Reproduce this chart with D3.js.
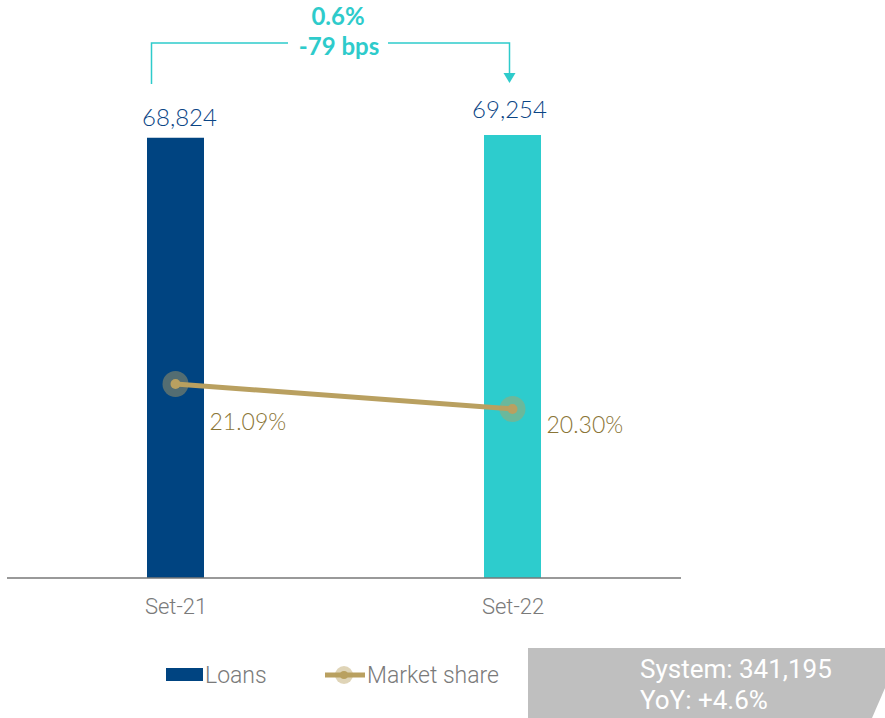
<!DOCTYPE html>
<html>
<head>
<meta charset="utf-8">
<script src="https://cdn.jsdelivr.net/npm/d3@7"></script>
<style>
  body { margin: 0; background: #fff; }
  svg { display: block; }
</style>
</head>
<body>
<svg id="chart" width="885" height="718"></svg>
<script>
// data
const periods = ["Set-21", "Set-22"];
const loans = [68824, 69254];
const marketShare = [21.09, 20.30];
const barColors = ["#004481", "#2dcccd"];
const growthLabel = "0.6%";
const bpsLabel = "-79 bps";
const systemLines = ["System: 341,195", "YoY: +4.6%"];

const svg = d3.select("#chart");
const gold = "#b9a060";

const x = d3.scalePoint()
  .domain(periods)
  .range([7, 681])
  .padding(0.5);

const y = d3.scaleLinear()
  .domain([0, 69254])
  .range([578, 135]);

// market share on its own scale
const y2 = d3.scaleLinear()
  .domain([20.30, 21.09])
  .range([409, 384]);

const barW = 57;
// label nudges (first label sits lower under the line)
const valDy = [-12, -17];
const pctDy = [46, 24];

// bars
svg.selectAll(".bar")
  .data(loans)
  .enter()
  .append("rect")
  .attr("class", "bar")
  .attr("x", (d, i) => x(periods[i]) - barW / 2)
  .attr("y", d => y(d))
  .attr("width", barW)
  .attr("height", d => 578 - y(d))
  .attr("fill", (d, i) => barColors[i]);

// bar values
svg.selectAll(".val")
  .data(loans)
  .enter()
  .append("text")
  .attr("x", (d, i) => x(periods[i]) + (i == 0 ? 4 : -3))
  .attr("y", (d, i) => y(d) + valDy[i])
  .attr("text-anchor", "middle")
  .attr("font-family", "Lato")
  .attr("font-weight", 300)
  .attr("font-size", 24)
  .attr("fill", "#0a4585")
  .text(d => d3.format(",")(d));

// axis
const xAxis = svg.append("g")
  .attr("transform", "translate(0,578)")
  .call(d3.axisBottom(x).tickSize(0).tickPadding(20));
xAxis.select(".domain").attr("d", "M7,0H681").attr("stroke", "#777").attr("stroke-width", 1.5);
xAxis.selectAll("text")
  .attr("font-family", "Roboto")
  .attr("font-weight", 300)
  .attr("font-size", 22)
  .attr("fill", "#7a7a7a");

// market share line
svg.append("path")
  .datum(marketShare)
  .attr("fill", "none")
  .attr("stroke", gold)
  .attr("stroke-width", 5)
  .attr("d", d3.line().x((d, i) => x(periods[i])).y(d => y2(d)));

svg.selectAll(".halo")
  .data(marketShare)
  .enter()
  .append("circle")
  .attr("cx", (d, i) => x(periods[i]))
  .attr("cy", d => y2(d))
  .attr("r", 13)
  .attr("fill", gold)
  .attr("fill-opacity", 0.45);

svg.selectAll(".dot")
  .data(marketShare)
  .enter()
  .append("circle")
  .attr("cx", (d, i) => x(periods[i]))
  .attr("cy", d => y2(d))
  .attr("r", 5)
  .attr("fill", gold);

svg.selectAll(".msl")
  .data(marketShare)
  .enter()
  .append("text")
  .attr("x", (d, i) => x(periods[i]) + 34)
  .attr("y", (d, i) => y2(d) + pctDy[i])
  .attr("font-family", "Lato")
  .attr("font-weight", 300)
  .attr("font-size", 23)
  .attr("fill", "#8a7536")
  .text(d => d.toFixed(2) + "%");

// growth bracket
const teal = "#2ecbcb";
const bx0 = x(periods[0]) - 24, bx1 = x(periods[1]) - 3, by = 43;
svg.append("path")
  .attr("d", `M${bx0},84V${by}H288M388,${by}H${bx1}V74`)
  .attr("fill", "none")
  .attr("stroke", teal)
  .attr("stroke-width", 1.5);
svg.append("path")
  .attr("d", `M${bx1 - 6},73L${bx1 + 6},73L${bx1},83Z`)
  .attr("fill", teal);

svg.append("text")
  .attr("x", 338).attr("y", 25)
  .attr("text-anchor", "middle")
  .attr("font-family", "Lato").attr("font-weight", 700)
  .attr("font-size", 24).attr("fill", teal)
  .text(growthLabel);
svg.append("text")
  .attr("x", 339).attr("y", 55)
  .attr("text-anchor", "middle")
  .attr("font-family", "Lato").attr("font-weight", 700)
  .attr("font-size", 24).attr("fill", teal)
  .text(bpsLabel);

// legend
const legend = svg.append("g").attr("font-family", "Roboto").attr("font-weight", 300)
  .attr("font-size", 23).attr("fill", "#7a7a7a");
legend.append("rect").attr("x", 166).attr("y", 668).attr("width", 37).attr("height", 13).attr("fill", barColors[0]);
legend.append("text").attr("x", 205).attr("y", 683).text("Loans");
legend.append("line").attr("x1", 325).attr("x2", 365).attr("y1", 675).attr("y2", 675)
  .attr("stroke", gold).attr("stroke-width", 5);
legend.append("circle").attr("cx", 344).attr("cy", 675).attr("r", 9).attr("fill", gold).attr("fill-opacity", 0.45);
legend.append("circle").attr("cx", 344).attr("cy", 675).attr("r", 4).attr("fill", gold);
legend.append("text").attr("x", 367).attr("y", 683).text("Market share");

// system box
svg.append("path")
  .attr("d", "M528,648H885V688L872,718H528Z")
  .attr("fill", "#bfbfbf");
svg.selectAll(".sys")
  .data(systemLines)
  .enter()
  .append("text")
  .attr("x", 640)
  .attr("y", (d, i) => 678 + i * 31)
  .attr("font-family", "Roboto")
  .attr("font-size", 26)
  .attr("fill", "#fff")
  .text(d => d);
</script>
</body>
</html>
